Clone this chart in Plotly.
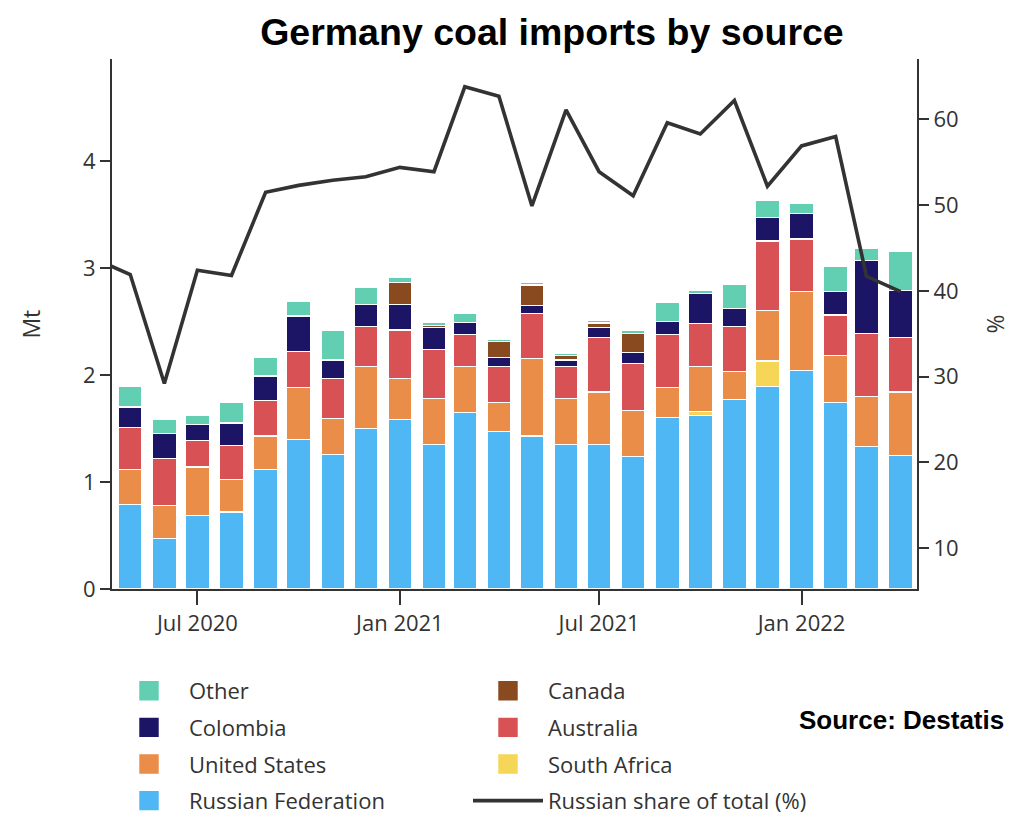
import plotly.graph_objects as go

# ---------------- data (Mt per month) ----------------
months = [
    "2020-05-01", "2020-06-01", "2020-07-01", "2020-08-01", "2020-09-01", "2020-10-01",
    "2020-11-01", "2020-12-01", "2021-01-01", "2021-02-01", "2021-03-01", "2021-04-01",
    "2021-05-01", "2021-06-01", "2021-07-01", "2021-08-01", "2021-09-01", "2021-10-01",
    "2021-11-01", "2021-12-01", "2022-01-01", "2022-02-01", "2022-03-01", "2022-04-01",
]
russia = [0.79, 0.47, 0.69, 0.72, 1.12, 1.40, 1.26, 1.50, 1.58, 1.35, 1.65, 1.47,
          1.43, 1.35, 1.35, 1.24, 1.60, 1.62, 1.77, 1.89, 2.04, 1.74, 1.33, 1.25]
south_africa = [None, None, None, None, None, None, None, None, None, None, None, None,
                None, None, None, None, None, 0.04, None, 0.24, None, None, None, None]
united_states = [0.33, 0.31, 0.45, 0.30, 0.31, 0.48, 0.33, 0.58, 0.39, 0.43, 0.43, 0.27,
                 0.72, 0.43, 0.49, 0.43, 0.28, 0.42, 0.26, 0.47, 0.74, 0.44, 0.47, 0.59]
australia = [0.39, 0.44, 0.25, 0.32, 0.33, 0.34, 0.38, 0.37, 0.45, 0.46, 0.30, 0.34,
             0.42, 0.30, 0.51, 0.44, 0.50, 0.40, 0.42, 0.65, 0.49, 0.38, 0.59, 0.51]
colombia = [0.19, 0.23, 0.15, 0.21, 0.23, 0.33, 0.17, 0.21, 0.24, 0.20, 0.11, 0.08,
            0.08, 0.06, 0.09, 0.10, 0.12, 0.28, 0.17, 0.22, 0.24, 0.22, 0.68, 0.44]
canada = [None, None, None, None, None, None, None, None, 0.20, 0.025, None, 0.15,
          0.19, 0.04, 0.045, 0.18, None, None, None, None, None, None, None, None]
other = [0.19, 0.13, 0.08, 0.19, 0.17, 0.14, 0.28, 0.16, 0.05, 0.03, 0.08, 0.025,
         0.025, 0.02, 0.02, 0.03, 0.18, 0.03, 0.23, 0.16, 0.09, 0.235, 0.11, 0.36]

share_months = ["2020-04-01"] + months
russian_share = [43.6, 41.9, 29.2, 42.4, 41.8, 51.5, 52.3, 52.9, 53.3, 54.4, 53.9, 63.8,
                 62.7, 49.9, 61.1, 53.9, 51.1, 59.6, 58.3, 62.2, 52.2, 56.9, 58.0, 41.7, 39.9]

# ---------------- styling ----------------
TXT = "#333333"
FONT = "Open Sans"
DAY_MS = 86400000
BAR_W = 21.5 * DAY_MS

fig = go.Figure()

# stacked from bottom to top; (name, values, colour, legend, rank in that legend)
bar_series = [
    ("Russian Federation", russia, "#4FB7F4", "legend", 4),
    ("South Africa", south_africa, "#F5D657", "legend2", 3),
    ("United States", united_states, "#EA8D48", "legend", 3),
    ("Australia", australia, "#D85255", "legend2", 2),
    ("Colombia", colombia, "#1C1566", "legend", 2),
    ("Canada", canada, "#8A4A1F", "legend2", 1),
    ("Other", other, "#62CFB3", "legend", 1),
]
for name, vals, col, lg, rank in bar_series:
    fig.add_trace(go.Bar(
        x=months, y=vals, name=name, width=BAR_W,
        marker=dict(color=col, line=dict(color="white", width=1.2)),
        legend=lg, legendgroup=name, legendrank=rank,
    ))

fig.add_trace(go.Scatter(
    x=share_months, y=russian_share, name="Russian share of total (%)",
    mode="lines", line=dict(color="#333333", width=3.6), yaxis="y2",
    legend="legend2", legendgroup="share", legendrank=4,
))

legend_common = dict(
    orientation="v", traceorder="grouped", tracegroupgap=5,
    itemwidth=70, font=dict(family=FONT, size=22, color=TXT),
    bgcolor="rgba(0,0,0,0)", xanchor="left", yanchor="top",
    xref="container", yref="container",
    itemclick=False, itemdoubleclick=False,
)

axis_title_font = dict(family=FONT, size=23, color=TXT)

fig.update_layout(
    width=1024, height=828,
    margin=dict(l=111.5, r=106.7, t=59, b=238.7, autoexpand=False),
    paper_bgcolor="white", plot_bgcolor="white",
    barmode="stack",
    font=dict(family=FONT, size=22, color=TXT),
    title=dict(
        text="<b>Germany coal imports by source</b>",
        font=dict(family="Liberation Sans", size=37.5, color="black"),
        x=0.539, xref="container", xanchor="center",
        y=1 - 32 / 828, yref="container", yanchor="middle",
    ),
    xaxis=dict(
        type="date", range=["2020-04-14 10:00", "2022-04-15 22:00"],
        dtick="M6", tick0="2020-01-01", tickformat="%b %Y",
        showgrid=False, zeroline=False,
        showline=True, linecolor=TXT, linewidth=2,
        ticks="outside", ticklen=14, tickwidth=2, tickcolor=TXT,
        tickfont=dict(family=FONT, size=22, color=TXT),
    ),
    yaxis=dict(
        range=[0, 4.951], dtick=1, showgrid=False, zeroline=False,
        showline=True, linecolor=TXT, linewidth=2,
        ticks="outside", ticklen=10, tickwidth=2, tickcolor=TXT,
        tickfont=dict(family=FONT, size=22, color=TXT),
    ),
    yaxis2=dict(
        overlaying="y", side="right", range=[5.23, 67.04], dtick=10,
        showgrid=False, zeroline=False,
        showline=True, linecolor=TXT, linewidth=2,
        ticks="outside", ticklen=10, tickwidth=2, tickcolor=TXT,
        tickfont=dict(family=FONT, size=22, color=TXT),
    ),
    legend=dict(x=109 / 1024, y=1 - 670 / 828, **legend_common),
    legend2=dict(x=468 / 1024, y=1 - 670 / 828, **legend_common),
    showlegend=True,
    annotations=[
        dict(text="Mt", xref="paper", yref="paper", x=-0.1011, y=0.5,
             xanchor="center", yanchor="middle", textangle=-90, showarrow=False,
             font=axis_title_font),
        dict(text="%", xref="paper", yref="paper", x=1.0964, y=0.5,
             xanchor="center", yanchor="middle", textangle=-90, showarrow=False,
             font=axis_title_font),
        dict(text="<b>Source: Destatis</b>", xref="paper", yref="paper",
             x=1.110, y=-0.2465, xanchor="right", yanchor="middle", showarrow=False,
             font=dict(family="Liberation Sans", size=26, color="black")),
    ],
)

post = """
var gd = document.getElementById('{plot_id}');
gd.querySelectorAll('.legendpoints path').forEach(function(p){
  var t = p.getAttribute('transform') || '';
  p.setAttribute('transform', t + ' scale(1.8)');
});
"""

fig.write_html("out.html", post_script=post)
